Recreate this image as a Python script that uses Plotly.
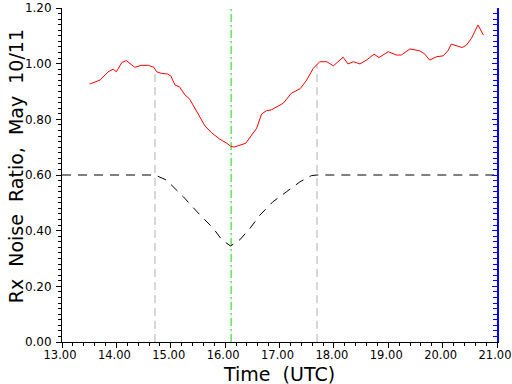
import plotly.graph_objects as go

# Red measured ratio
t_red = [13.51, 13.70, 13.85, 13.94, 14.00, 14.10, 14.18, 14.34, 14.46, 14.59, 14.69, 14.74,
         14.83, 14.94, 15.00, 15.08, 15.16, 15.26, 15.35, 15.48, 15.63, 15.75, 15.90, 16.03,
         16.10, 16.16, 16.27, 16.38, 16.49, 16.58, 16.67, 16.76, 16.85, 17.07, 17.22, 17.38,
         17.50, 17.62, 17.74, 17.87, 17.99, 18.08, 18.17, 18.26, 18.36, 18.48, 18.60, 18.74,
         18.83, 19.00, 19.15, 19.24, 19.40, 19.58, 19.67, 19.76, 19.89, 20.01, 20.10, 20.16,
         20.26, 20.36, 20.44, 20.53, 20.65, 20.75]
v_red = [0.927, 0.941, 0.971, 0.980, 0.971, 1.004, 1.011, 0.987, 0.994, 0.994, 0.987, 0.971,
         0.965, 0.963, 0.956, 0.923, 0.917, 0.888, 0.872, 0.827, 0.776, 0.752, 0.729, 0.714,
         0.704, 0.700, 0.708, 0.714, 0.744, 0.768, 0.819, 0.831, 0.834, 0.858, 0.894, 0.910,
         0.941, 0.983, 1.007, 1.007, 0.992, 1.007, 1.023, 0.999, 1.007, 0.999, 1.013, 1.034,
         1.022, 1.043, 1.031, 1.031, 1.053, 1.046, 1.035, 1.013, 1.025, 1.028, 1.047, 1.070,
         1.064, 1.058, 1.067, 1.091, 1.139, 1.103]

# Black dashed model curve
t_model = [13.0, 14.71, 14.92, 15.23, 15.54, 15.78, 15.94, 16.10, 16.27, 16.46, 16.64, 16.88,
           17.13, 17.38, 17.59, 17.69, 21.0]
v_model = [0.60, 0.600, 0.582, 0.522, 0.456, 0.409, 0.367, 0.345, 0.367, 0.409, 0.456, 0.504,
           0.540, 0.576, 0.598, 0.600, 0.60]

# Event markers
t_start, v_start_top = 14.71, 0.97
t_end, v_end_top = 17.69, 1.00
t_max = 16.11

x_ticks = [13, 14, 15, 16, 17, 18, 19, 20, 21]
x_tick_labels = ["13.00", "14.00", "15.00", "16.00", "17.00", "18.00", "19.00", "20.00", "21.00"]
y_ticks = [0.0, 0.2, 0.4, 0.6, 0.8, 1.0, 1.2]
y_tick_labels = ["0.00", "0.20", "0.40", "0.60", "0.80", "1.00", "1.20"]

x_title = "Time  (UTC)"
y_title = "Rx  Noise  Ratio,  May  10/11"

font = "DejaVu Sans"

fig = go.Figure()
fig.add_trace(go.Scatter(x=[t_start, t_start], y=[0, v_start_top], mode="lines",
                         line=dict(color="#b0b0b0", width=1, dash="8px,5px"), hoverinfo="skip"))
fig.add_trace(go.Scatter(x=[t_end, t_end], y=[0, v_end_top], mode="lines",
                         line=dict(color="#b0b0b0", width=1, dash="8px,5px"), hoverinfo="skip"))
fig.add_trace(go.Scatter(x=[t_max, t_max], y=[0, 1.2], mode="lines",
                         line=dict(color="#00e000", width=1, dash="8px,3px,2px,3px"), hoverinfo="skip"))
fig.add_trace(go.Scatter(x=t_model, y=v_model, mode="lines",
                         line=dict(color="black", width=1, dash="9px,7px"), hoverinfo="skip"))
fig.add_trace(go.Scatter(x=t_red, y=v_red, mode="lines",
                         line=dict(color="red", width=1), hoverinfo="skip"))
# invisible trace to anchor right axis
fig.add_trace(go.Scatter(x=[13], y=[0], yaxis="y2", mode="markers",
                         marker=dict(opacity=0), hoverinfo="skip"))

fig.update_layout(
    width=512, height=384,
    margin=dict(l=62, r=15, t=8, b=42, autoexpand=False),
    paper_bgcolor="white", plot_bgcolor="white",
    showlegend=False,
    font=dict(family=font, color="black", size=12),
    xaxis=dict(range=[13, 21], tickvals=x_ticks, ticktext=x_tick_labels, automargin=False,
               showline=True, linecolor="black", linewidth=1,
               ticks="outside", ticklen=5, tickcolor="black",
               minor=dict(dtick=0.2, ticks="outside", ticklen=3, tickcolor="black"),
               showgrid=False, zeroline=False, tickfont=dict(size=11.5),
               ticklabeloverflow="allow", ticklabelstandoff=-3, ticklabelshift=-2),
    yaxis=dict(range=[0, 1.2], tickvals=y_ticks, ticktext=y_tick_labels, automargin=False,
               showline=True, linecolor="black", linewidth=1,
               ticks="outside", ticklen=5, tickcolor="black",
               minor=dict(dtick=0.02, ticks="outside", ticklen=3, tickcolor="black"),
               showgrid=False, zeroline=False, tickfont=dict(size=12),
               ticklabeloverflow="allow", ticklabelstandoff=2),
    yaxis2=dict(range=[0, 1.2], overlaying="y", side="right", anchor="x", automargin=False,
                showline=True, linecolor="blue", linewidth=2,
                ticks="inside", ticklen=5, tickwidth=1, tickcolor="blue", tickvals=y_ticks,
                minor=dict(dtick=0.02, ticks="inside", ticklen=4, tickwidth=1, tickcolor="blue"),
                showticklabels=False, showgrid=False, zeroline=False),
    annotations=[
        dict(text=x_title, xref="paper", yref="paper", x=0.498, y=-0.097,
             xanchor="center", yanchor="middle", showarrow=False, font=dict(size=19)),
        dict(text=y_title, xref="paper", yref="paper", x=-0.105, y=0.527,
             xanchor="center", yanchor="middle", showarrow=False, textangle=-90,
             font=dict(size=19)),
    ],
)

fig.write_html("out.html", config={"displayModeBar": False},
               post_script="document.body.style.margin='0';document.body.style.overflow='hidden';")
